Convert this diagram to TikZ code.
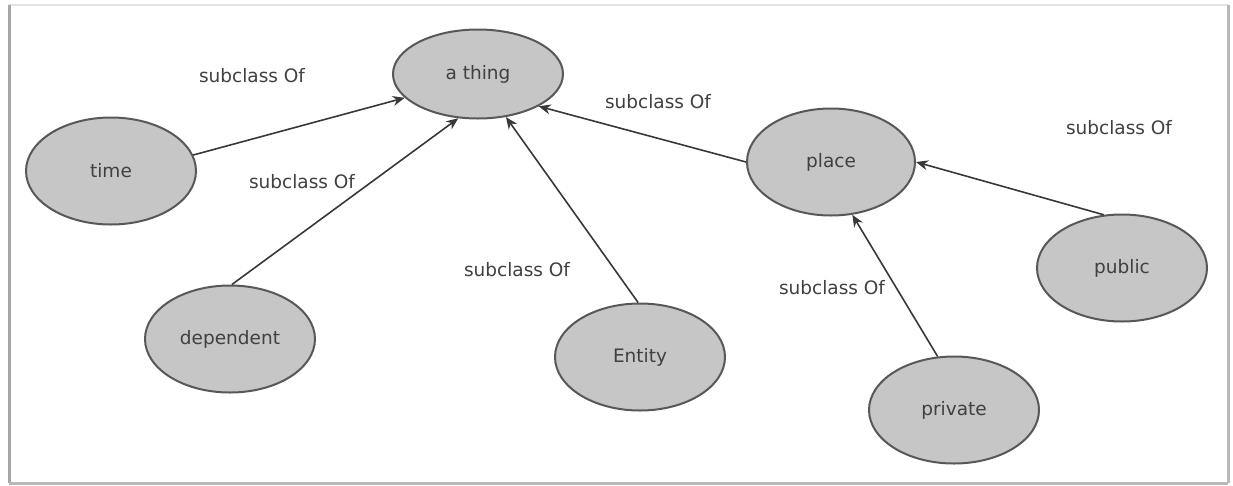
\documentclass[tikz,border=0pt]{standalone}
\usepackage{fontspec}
\setmainfont{DejaVu Sans}
\usetikzlibrary{shapes.geometric,arrows.meta}
\definecolor{nodefill}{HTML}{C6C6C6}
\definecolor{nodeline}{HTML}{585858}
\definecolor{inktext}{HTML}{404040}
\definecolor{edgeink}{HTML}{383838}
\tikzset{
  cls/.style={ellipse, draw=nodeline, line width=2pt, fill=nodefill,
    minimum width=170pt, minimum height=107pt, inner sep=0pt,
    text=inktext, font=\fontsize{18.5}{22}\selectfont},
  subof/.style={draw=edgeink, line width=1.6pt,
    -{Stealth[length=12pt,width=10pt]}},
  rel/.style={text=inktext, font=\fontsize{18.5}{22}\selectfont, inner sep=0pt},
}
\begin{document}
\begin{tikzpicture}[x=1pt,y=-1pt]
  \useasboundingbox (0,0) rectangle (1233,485);
  % frame with a soft shadowed edge
  \draw[gray!22, line width=2pt] (9,5) -- (1228,5);
  \draw[gray!70, line width=3pt] (9,5) -- (9,483);
  \draw[gray!55, line width=3pt] (9,483) -- (1228,483);
  \draw[gray!55, line width=3pt] (1228,5) -- (1228,483);

  % classes
  \node[cls, minimum height=89pt] (thing) at (478,74) {a thing};
  \node[cls] (time) at (111,171) {time};
  \node[cls] (dependent) at (230,339) {dependent};
  \node[cls] (entity) at (640,357) {Entity};
  \node[cls, minimum width=168pt] (place) at (831,162) {place};
  \node[cls] (public) at (1122,268) {public};
  \node[cls] (private) at (954,410) {private};

  % subclass relations
  \draw[subof] (time.11) -- (thing.198);
  \draw[subof] (dependent.88) -- (thing.246.5);
  \draw[subof] (entity.92) -- (thing.303.7);
  \draw[subof] (place.180) -- (thing.332);
  \draw[subof] (public.109) -- (place.0);
  \draw[subof] (private.107.5) -- (place.292.5);

  % relation labels
  \node[rel] (l1) at (252,76) {subclass Of};
  \node[rel] (l2) at (302,182) {subclass Of};
  \node[rel] (l3) at (517,270) {subclass Of};
  \node[rel] (l4) at (658,102) {subclass Of};
  \node[rel] (l5) at (1119,128) {subclass Of};
  \node[rel] (l6) at (832,288) {subclass Of};
\end{tikzpicture}
\end{document}
